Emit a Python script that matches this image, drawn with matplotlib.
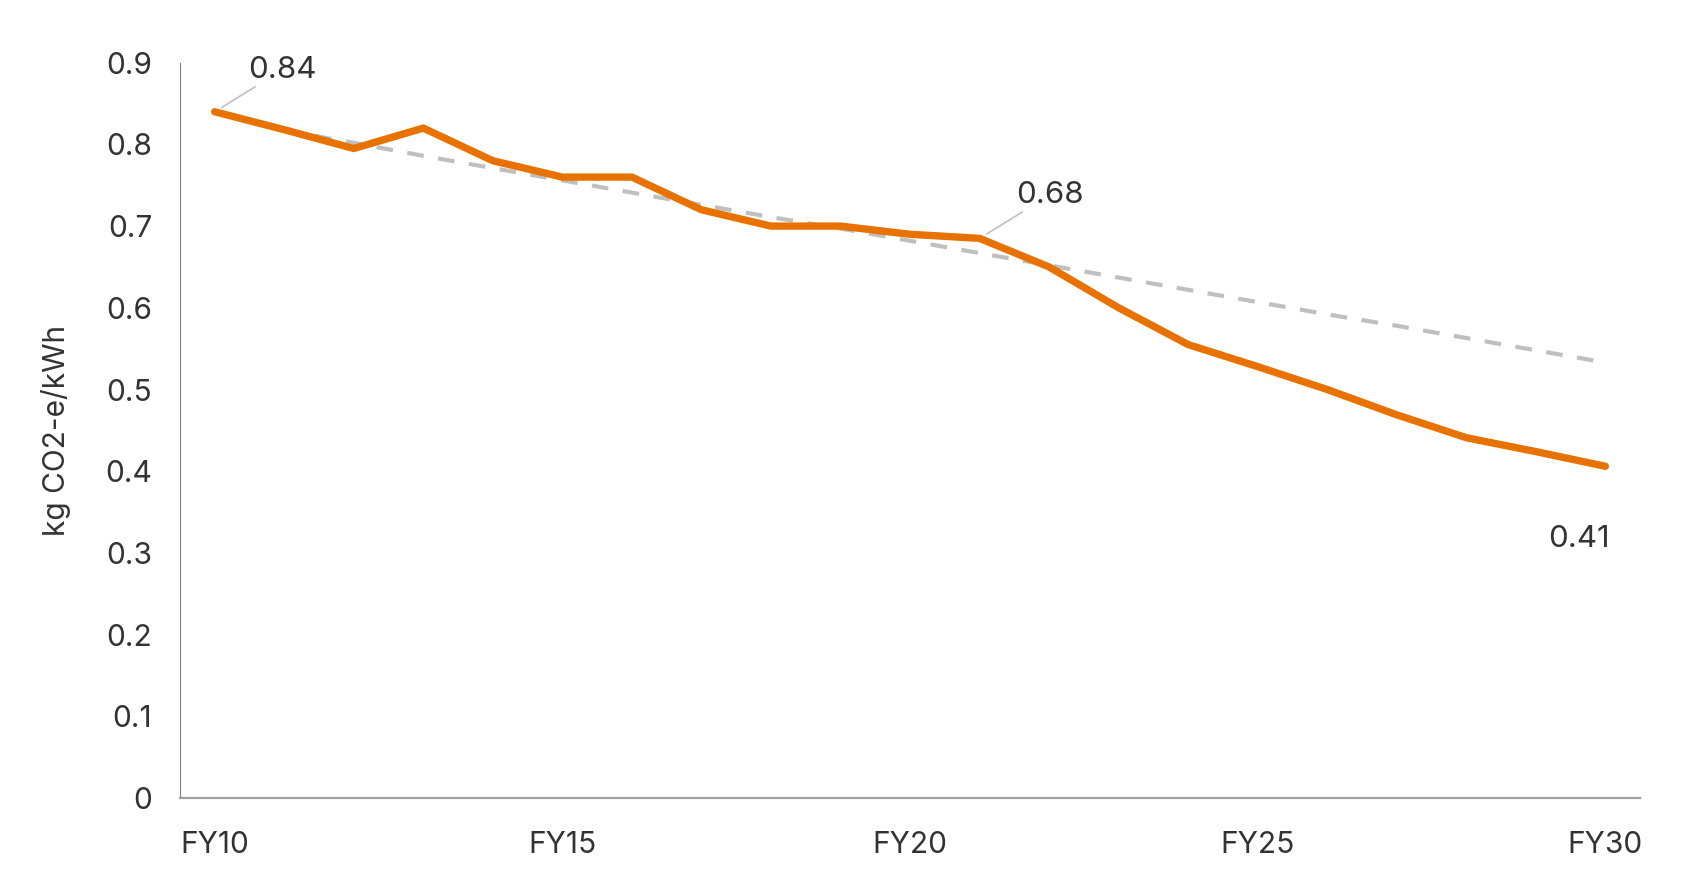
import numpy as np
import matplotlib.pyplot as plt

# Chart data
years = ['FY10', 'FY11', 'FY12', 'FY13', 'FY14', 'FY15', 'FY16', 'FY17', 'FY18', 'FY19', 'FY20',
         'FY21', 'FY22', 'FY23', 'FY24', 'FY25', 'FY26', 'FY27', 'FY28', 'FY29', 'FY30']
intensity = [0.84, 0.818, 0.795, 0.82, 0.78, 0.76, 0.76, 0.72, 0.70, 0.70, 0.69,
             0.685, 0.65, 0.60, 0.555, 0.528, 0.50, 0.469, 0.441, 0.424, 0.406]
trend = [np.nan, 0.817, 0.802, 0.786, 0.771, 0.756, 0.741, 0.726, 0.711, 0.697, 0.682,
         0.667, 0.652, 0.637, 0.622, 0.607, 0.592, 0.578, 0.563, 0.548, 0.533]
tick_labels = ['FY10', 'FY15', 'FY20', 'FY25', 'FY30']
yticks = [0, 0.1, 0.2, 0.3, 0.4, 0.5, 0.6, 0.7, 0.8, 0.9]
callouts = {'FY10': '0.84', 'FY21': '0.68', 'FY30': '0.41'}

plt.rcParams['font.family'] = ['Inter', 'DejaVu Sans']
text_col = '#333333'

fig = plt.figure(figsize=(16.9, 8.91), dpi=100)
ax = fig.add_axes([0.1065, 0.1044, 0.8640, 0.8252])

x = np.arange(len(years))
ax.plot(x, trend, color='#BFBFBF', lw=3, dashes=(4, 3.5), zorder=2)
ax.plot(x, intensity, color='#E87200', lw=5.3, solid_capstyle='round',
        solid_joinstyle='miter', zorder=3)

ax.set_xlim(-0.5, len(years) - 0.5)
ax.set_ylim(0, 0.9)
ax.set_yticks(yticks)
ax.set_yticklabels(['0' if v == 0 else f'{v:.1f}' for v in yticks])
ax.set_xticks([years.index(t) for t in tick_labels])
ax.set_xticklabels(tick_labels)
ax.tick_params(axis='y', length=0, pad=20, labelsize=21.5, labelcolor=text_col)
ax.tick_params(axis='x', length=0, pad=24, labelsize=21.5, labelcolor=text_col)
ax.set_ylabel('kg CO2-e/kWh', fontsize=21.5, color=text_col, labelpad=25)

for s in ['top', 'right']:
    ax.spines[s].set_visible(False)
ax.spines['left'].set_color('#808080')
ax.spines['left'].set_linewidth(0.8)
ax.spines['bottom'].set_color('#A0A0A0')
ax.spines['bottom'].set_linewidth(1.6)

# data callouts
i = years.index('FY10')
ax.annotate(callouts['FY10'], xy=(x[i], intensity[i]), xytext=(24, 20),
            textcoords='offset points', fontsize=22.5, color=text_col,
            ha='left', va='bottom',
            arrowprops=dict(arrowstyle='-', color='#BFBFBF', lw=1.2,
                            shrinkA=0, shrinkB=6))
i = years.index('FY21')
ax.annotate(callouts['FY21'], xy=(x[i], intensity[i]), xytext=(26, 21),
            textcoords='offset points', fontsize=22.5, color=text_col,
            ha='left', va='bottom',
            arrowprops=dict(arrowstyle='-', color='#BFBFBF', lw=1.2,
                            shrinkA=0, shrinkB=6))
i = years.index('FY30')
ax.annotate(callouts['FY30'], xy=(x[i], intensity[i]), xytext=(3, -42),
            textcoords='offset points', fontsize=22.5, color=text_col,
            ha='right', va='top')

fig.savefig('out.png', dpi=100, facecolor='white')
